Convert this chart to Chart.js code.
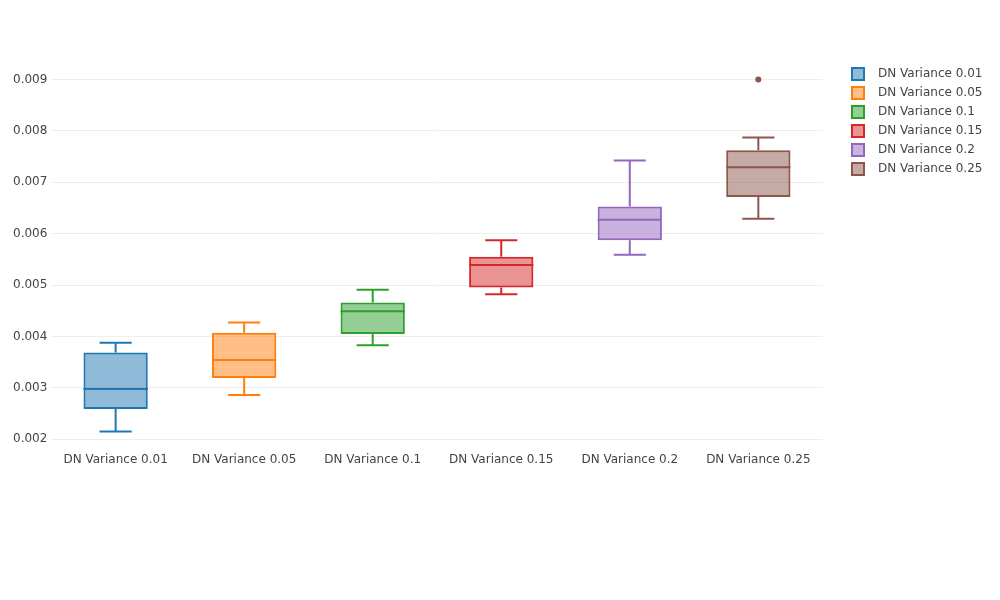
<!DOCTYPE html>
<html>
<head>
<meta charset="utf-8">
<script src="https://cdn.jsdelivr.net/npm/chart.js@4.4.0/dist/chart.umd.min.js"></script>
<style>
html,body{margin:0;padding:0;background:#fff;}
#wrap{width:1000px;height:600px;position:relative;}
</style>
</head>
<body>
<div id="wrap"><canvas id="c"></canvas></div>
<script>
const categories = ['DN Variance 0.01', 'DN Variance 0.05', 'DN Variance 0.1', 'DN Variance 0.15', 'DN Variance 0.2', 'DN Variance 0.25'];
const lowerWhisker = [0.00215, 0.00286, 0.00383, 0.00482, 0.00559, 0.00629];
const q1 = [0.00259, 0.00319, 0.00405, 0.00495, 0.00587, 0.00671];
const median = [0.00298, 0.00354, 0.00449, 0.00539, 0.00627, 0.00729];
const q3 = [0.00369, 0.00407, 0.00466, 0.00555, 0.00653, 0.00762];
const upperWhisker = [0.00388, 0.00427, 0.00491, 0.00587, 0.00742, 0.00787];
const outliers = [[], [], [], [], [], [0.009]];
const yTicks = [0.002, 0.003, 0.004, 0.005, 0.006, 0.007, 0.008, 0.009];
const lineColors = ['#1f77b4', '#ff7f0e', '#2ca02c', '#d62728', '#9467bd', '#8c564b'];
const fillColors = ['rgba(31,119,180,0.5)', 'rgba(255,127,14,0.5)', 'rgba(44,160,44,0.5)', 'rgba(214,39,40,0.5)', 'rgba(148,103,189,0.5)', 'rgba(140,86,75,0.5)'];

const FONT = 'DejaVu Sans';
const FSIZE = 12;

const datasets = categories.map((name, i) => ({
  type: 'bar',
  label: name,
  data: categories.map((c, j) => (j === i ? [q1[i], q3[i]] : null)),
  backgroundColor: fillColors[i],
  borderColor: lineColors[i],
  borderWidth: 2,
  borderSkipped: false,
  grouped: false,
  barPercentage: 0.5,
  categoryPercentage: 1.0
}));

const outlierPoints = [];
const outlierColors = [];
outliers.forEach((arr, i) => arr.forEach(v => { outlierPoints.push({x: categories[i], y: v}); outlierColors.push(lineColors[i]); }));
datasets.push({
  type: 'line',
  label: 'outliers',
  data: outlierPoints,
  showLine: false,
  pointRadius: 3,
  pointHoverRadius: 3,
  pointBorderWidth: 0,
  pointBackgroundColor: outlierColors,
  borderColor: outlierColors
});

// legend swatches (box with translucent fill and solid border)
const legendSwatches = lineColors.map((c, i) => {
  const cv = document.createElement('canvas');
  cv.width = 14; cv.height = 14;
  const g = cv.getContext('2d');
  g.fillStyle = fillColors[i];
  g.fillRect(1, 1, 12, 12);
  g.strokeStyle = c;
  g.lineWidth = 2;
  g.strokeRect(1, 1, 12, 12);
  return cv;
});

const boxPlugin = {
  id: 'boxWhiskers',
  afterLayout(chart) {
    const l = chart.legend;
    if (l) {
      const w = l.right - l.left;
      l.left = 837; l.right = 837 + w;
      const h = l.bottom - l.top;
      l.top = 61; l.bottom = 61 + h;
    }
  },
  afterDatasetsDraw(chart) {
    const ctx = chart.ctx;
    const ys = chart.scales.y;
    categories.forEach((c, i) => {
      const el = chart.getDatasetMeta(i).data[i];
      if (!el) return;
      const x = el.x;
      const half = el.width / 2;
      const cap = half / 2;
      const yMed = ys.getPixelForValue(median[i]);
      const yQ1 = ys.getPixelForValue(q1[i]);
      const yQ3 = ys.getPixelForValue(q3[i]);
      const yLo = ys.getPixelForValue(lowerWhisker[i]);
      const yHi = ys.getPixelForValue(upperWhisker[i]);
      ctx.save();
      ctx.strokeStyle = lineColors[i];
      ctx.lineWidth = 2;
      ctx.beginPath();
      ctx.moveTo(x - half, yMed); ctx.lineTo(x + half, yMed);
      ctx.moveTo(x, yQ3); ctx.lineTo(x, yHi);
      ctx.moveTo(x - cap, yHi); ctx.lineTo(x + cap, yHi);
      ctx.moveTo(x, yQ1); ctx.lineTo(x, yLo);
      ctx.moveTo(x - cap, yLo); ctx.lineTo(x + cap, yLo);
      ctx.stroke();
      ctx.restore();
    });
  }
};

new Chart(document.getElementById('c'), {
  type: 'bar',
  data: { labels: categories, datasets: datasets },
  plugins: [boxPlugin],
  options: {
    responsive: true,
    maintainAspectRatio: false,
    animation: false,
    layout: { padding: { top: 60, left: 9, right: 22, bottom: 122 } },
    plugins: {
      tooltip: { enabled: false },
      legend: {
        position: 'right',
        align: 'start',
        labels: {
          usePointStyle: true,
          pointStyleWidth: 28,
          boxHeight: 12,
          padding: 7,
          color: '#444',
          font: { family: FONT, size: FSIZE },
          generateLabels: chart => Chart.defaults.plugins.legend.labels.generateLabels(chart)
            .map(it => Object.assign(it, { pointStyle: legendSwatches[it.datasetIndex] })),
          filter: item => item.datasetIndex < categories.length
        }
      }
    },
    scales: {
      x: {
        grid: { display: false, drawTicks: false },
        border: { display: false },
        ticks: { color: '#444', font: { family: FONT, size: FSIZE }, padding: 11, maxRotation: 0, autoSkip: false }
      },
      y: {
        min: 0.001955,
        max: 0.009377,
        grid: { color: '#eeeeee', lineWidth: 1, drawTicks: false },
        border: { display: false },
        afterBuildTicks: axis => { axis.ticks = yTicks.map(v => ({ value: v })); },
        ticks: { color: '#444', font: { family: FONT, size: FSIZE }, padding: 4, callback: v => Number(v).toFixed(3) }
      }
    }
  }
});
</script>
</body>
</html>
